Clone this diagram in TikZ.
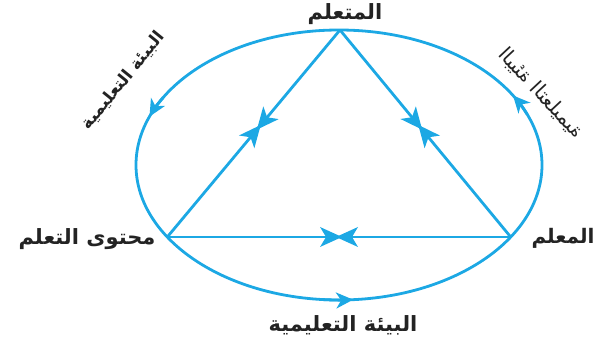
\documentclass[tikz,border=0pt]{standalone}
\usepackage{fontspec}
\newfontfamily\arabicfont[Script=Arabic]{DejaVu Sans}
\TeXXeTstate=1
\usetikzlibrary{arrows.meta,decorations.markings}
\definecolor{lineblue}{RGB}{28,168,228}
\definecolor{txt}{RGB}{35,35,35}
\tikzset{
  line/.style={draw=lineblue, line width=2.8pt},
  lab/.style={text=txt, font=\arabicfont\bfseries\fontsize{21}{24}\selectfont, inner sep=1pt},
  tipmark/.style={line, -{Stealth[length=17pt,width=16pt,inset=5pt]}},
  bowtie/.style={postaction={decorate}, decoration={markings, mark=at position #1 with {
     \fill[lineblue] (3pt,0pt) -- (-19pt,10pt) -- (-13pt,0pt) -- (-19pt,-10pt) -- cycle;
     \fill[lineblue] (-3pt,0pt) -- (19pt,10pt) -- (13pt,0pt) -- (19pt,-10pt) -- cycle;}}}
}
\begin{document}
\begin{tikzpicture}[x=1pt,y=1pt]
\useasboundingbox (0,0) rectangle (598,340);
\coordinate (C) at (339,175);
\coordinate (A) at (340,310);
\coordinate (L) at (167.3,103);
\coordinate (R) at (510.7,103);
\draw[line] (C) ellipse [x radius=203, y radius=135];
\draw[tipmark] ([shift={(150:203 and 135)}]C) arc[start angle=150, end angle=159, x radius=203, y radius=135];
\draw[tipmark] ([shift={(22:203 and 135)}]C) arc[start angle=22, end angle=31, x radius=203, y radius=135];
\draw[tipmark] ([shift={(265:203 and 135)}]C) arc[start angle=265, end angle=274, x radius=203, y radius=135];
\draw[line, bowtie=0.53] (L) -- (A);
\draw[line, bowtie=0.47] (A) -- (R);
\draw[line, bowtie=0.5] (L) -- (R);
\node[lab] (learner) at (345,326) {\beginR المتعلم\endR};
\node[lab] (content) at (87,101) {\beginR محتوى التعلم\endR};
\node[lab, font=\arabicfont\bfseries\fontsize{20}{24}\selectfont] (teacher) at (563,102) {\beginR المعلم\endR};
\node[lab] (envB) at (343,15) {\beginR البيئة التعليمية\endR};
\node[lab, font=\arabicfont\bfseries\fontsize{17}{20}\selectfont, rotate=51] (envL) at (123,259) {\beginR البيئة التعليمية\endR};
\node[lab, font=\arabicfont\fontsize{20}{22}\selectfont, xscale=-1, rotate=47] (envR) at (541,247) {\beginR البيئة التعليمية\endR};
\end{tikzpicture}
\end{document}
